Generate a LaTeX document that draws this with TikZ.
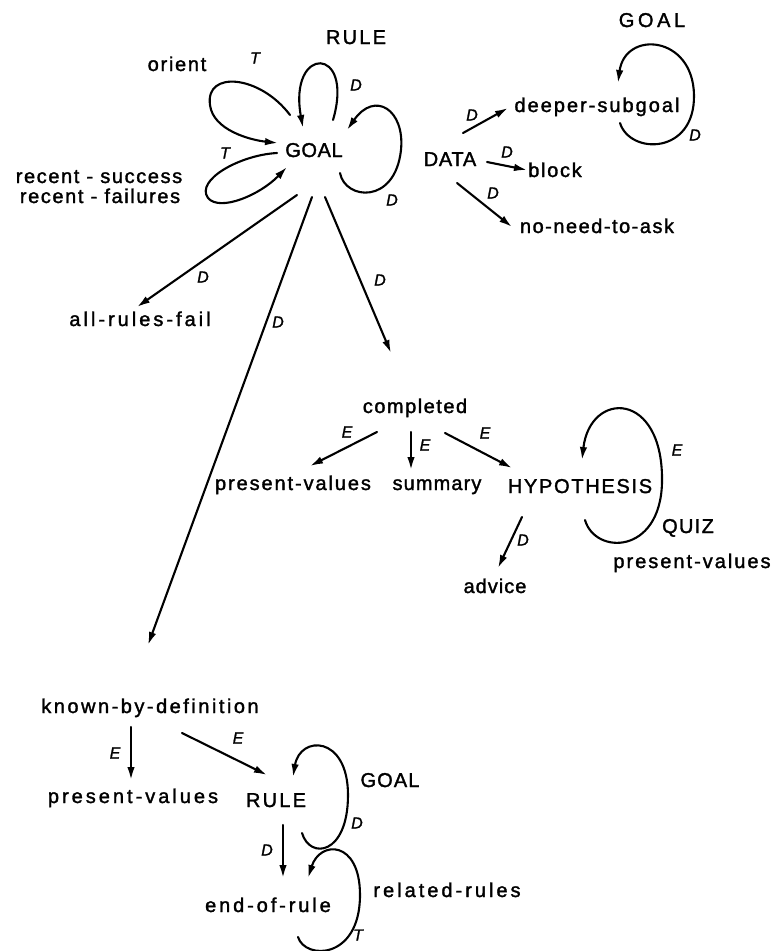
\documentclass[tikz,border=0pt]{standalone}
\usepackage{fontspec}
\setmainfont{Liberation Sans}
\newfontfamily\lab[FakeBold=1.6]{Liberation Sans}
\newfontfamily\elabfont[FakeBold=1.2]{Liberation Sans}
\usetikzlibrary{arrows.meta}
\begin{document}
\begin{tikzpicture}[x=1pt,y=-1pt,
  lbl/.style={font=\fontsize{20}{24}\selectfont\lab\addfontfeatures{LetterSpace=#1}, inner sep=0pt, anchor=base},
  lbl/.default=10,
  elab/.style={font=\fontsize{16}{18}\selectfont\elabfont\itshape, inner sep=0pt},
  arr/.style={-{Latex[length=13pt,width=7.5pt]}, line width=2.1pt, line cap=round},
]
\fill[white] (0,0) rectangle (776,951);
\useasboundingbox (0,0) rectangle (776,951);

% ---- GOAL and its neighbours ----
\node[lbl=3]    (goal)    at (314,157) {GOAL};
\node[lbl=11]   (ruleA)   at (356,44)  {RULE};
\node[lbl=8.5]  (orient)  at (177,71)  {orient};
\node[lbl=8]    (rsucc)   at (99,183)  {recent - success};
\node[lbl=8]    (rfail)   at (100,203) {recent - failures};
\node[lbl=15]   (allfail) at (140,326) {all-rules-fail};

% ---- DATA branch ----
\node[lbl=3.5]  (data)    at (450,166) {DATA};
\node[lbl=10]   (deeper)  at (597,112) {deeper-subgoal};
\node[lbl=18]   (goalB)   at (652,27)  {GOAL};
\node[lbl=8.5]  (block)   at (555,177) {block};
\node[lbl=7.5]  (noneed)  at (597,233) {no-need-to-ask};

% ---- completed branch ----
\node[lbl=7.5]  (compl)   at (415,413) {completed};
\node[lbl=9.5]  (pvA)     at (293,490) {present-values};
\node[lbl=5.5]  (summ)    at (437,490) {summary};
\node[lbl=8.5]  (hyp)     at (580,493) {HYPOTHESIS};
\node[lbl=6.5]  (quiz)    at (688,533) {QUIZ};
\node[lbl=10]   (pvB)     at (692,568) {present-values};
\node[lbl=5]    (advice)  at (495,593) {advice};

% ---- known-by-definition branch ----
\node[lbl=12.5] (kbd)     at (150,713) {known-by-definition};
\node[lbl=15]   (pvC)     at (133,803) {present-values};
\node[lbl=11]   (ruleB)   at (276,807) {RULE};
\node[lbl=5.5]  (goalC)   at (390,787) {GOAL};
\node[lbl=14.5] (eor)     at (268,912) {end-of-rule};
\node[lbl=15]   (related) at (447,897) {related-rules};

% ---- loops on GOAL ----
\draw[arr] ([shift={(-24,-42)}]goal.base) .. controls (260,75) and (205,70) .. (210,105)
           .. controls (213,130) and (250,140) .. ([shift={(-36,-14)}]goal.base);
\draw[arr] ([shift={(19,-37)}]goal.base) .. controls (355,45) and (288,45) .. ([shift={(-11,-29)}]goal.base);
\draw[arr] ([shift={(26,16)}]goal.base) .. controls (345,200) and (395,205) .. (401,150)
           .. controls (405,110) and (375,90) .. ([shift={(33,-27)}]goal.base);
\draw[arr] ([shift={(-37,-4)}]goal.base) .. controls (240,155) and (195,180) .. (208,198)
           .. controls (220,212) and (260,195) .. ([shift={(-27,10)}]goal.base);

% ---- arrows out of GOAL ----
\draw[arr] ([shift={(-17,38)}]goal.base) -- ([shift={(-3,-19)}]allfail.base);
\draw[arr] ([shift={(-2,40)}]goal.base) -- ([shift={(-2,-68)}]kbd.base);
\draw[arr] ([shift={(11,40)}]goal.base) -- ([shift={(-24,-60)}]compl.base);

% ---- DATA arrows and the deeper-subgoal loop ----
\draw[arr] ([shift={(13,-33)}]data.base) -- ([shift={(-89,-4)}]deeper.base);
\draw[arr] ([shift={(37,-4)}]data.base) -- ([shift={(-28,-7)}]block.base);
\draw[arr] ([shift={(7,17)}]data.base) -- ([shift={(-85,-6)}]noneed.base);
\draw[arr] ([shift={(23,11)}]deeper.base) .. controls (630,155) and (695,155) .. (694,95)
           .. controls (693,35) and (625,30) .. ([shift={(21,-29)}]deeper.base);

% ---- completed arrows and the HYPOTHESIS loop ----
\draw[arr] ([shift={(-38,19)}]compl.base) -- ([shift={(17,-24)}]pvA.base);
\draw[arr] ([shift={(-4,19)}]compl.base) -- ([shift={(-26,-20)}]summ.base);
\draw[arr] ([shift={(30,20)}]compl.base) -- ([shift={(-68,-25)}]hyp.base);
\draw[arr] ([shift={(-58,24)}]hyp.base) -- ([shift={(3,-25)}]advice.base);
\draw[arr] ([shift={(5,27)}]hyp.base) .. controls (595,555) and (660,555) .. (662,483)
           .. controls (664,390) and (590,390) .. ([shift={(2,-33)}]hyp.base);

% ---- known-by-definition arrows and the lower loops ----
\draw[arr] ([shift={(-19,14)}]kbd.base) -- ([shift={(-2,-23)}]pvC.base);
\draw[arr] ([shift={(32,20)}]kbd.base) -- ([shift={(-9,-32)}]ruleB.base);
\draw[arr] ([shift={(7,18)}]ruleB.base) -- ([shift={(15,-34)}]eor.base);
\draw[arr] ([shift={(26,26)}]ruleB.base) .. controls (310,860) and (348,855) .. (348,795)
           .. controls (348,735) and (300,735) .. ([shift={(17,-30)}]ruleB.base);
\draw[arr] ([shift={(30,25)}]eor.base) .. controls (305,960) and (360,960) .. (360,895)
           .. controls (360,840) and (320,840) .. ([shift={(40,-34)}]eor.base);

% ---- edge labels ----
\node[elab] (tOrient)  at (255,58)  {T};
\node[elab] (dRule)    at (356,85)  {D};
\node[elab] (tRecent)  at (225,153) {T};
\node[elab] (dSelf)    at (392,200) {D};
\node[elab] (dDeeper)  at (472,115) {D};
\node[elab] (dBlock)   at (507,152) {D};
\node[elab] (dNoneed)  at (493,193) {D};
\node[elab] (dGoalB)   at (695,135) {D};
\node[elab] (dAllfail) at (203,277) {D};
\node[elab] (dKbd)     at (278,322) {D};
\node[elab] (dCompl)   at (380,280) {D};
\node[elab] (ePvA)     at (347,432) {E};
\node[elab] (eSumm)    at (425,445) {E};
\node[elab] (eHyp)     at (485,433) {E};
\node[elab] (eQuiz)    at (677,450) {E};
\node[elab] (dAdvice)  at (523,540) {D};
\node[elab] (ePvC)     at (115,753) {E};
\node[elab] (eRuleB)   at (238,738) {E};
\node[elab] (dGoalC)   at (357,823) {D};
\node[elab] (dEor)     at (267,850) {D};
\node[elab] (tRelated) at (358,935) {T};
\end{tikzpicture}
\end{document}
